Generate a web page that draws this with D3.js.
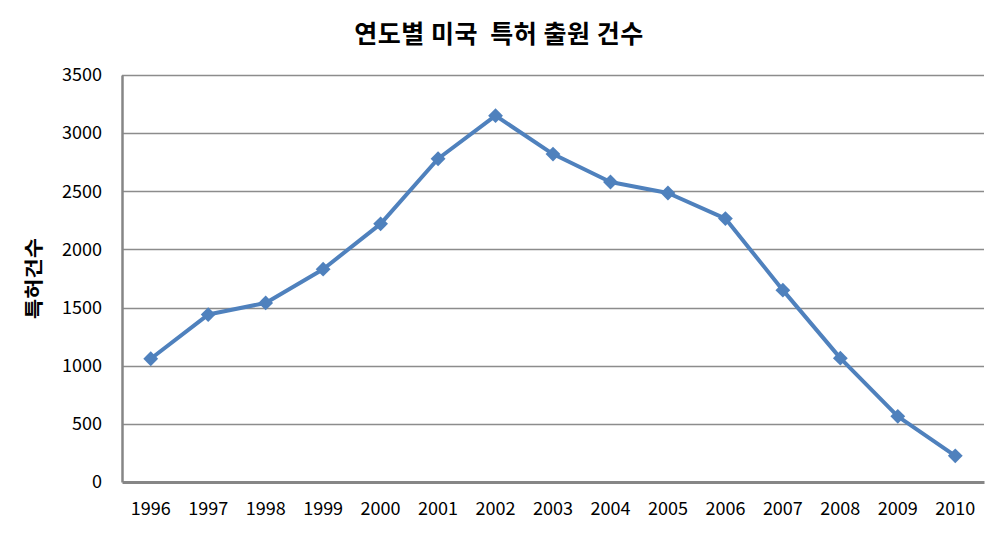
<!DOCTYPE html>
<html><head><meta charset="utf-8">
<script src="https://cdn.jsdelivr.net/npm/d3@7"></script>
<style>body{margin:0;background:#fff}svg{display:block}</style>
</head><body>
<script>
const years = ["1996","1997","1998","1999","2000","2001","2002","2003","2004","2005","2006","2007","2008","2009","2010"];
const counts = [1060,1440,1540,1830,2220,2780,3150,2820,2580,2485,2265,1650,1065,565,225];
const yTicks = [0,500,1000,1500,2000,2500,3000,3500];
const title = "연도별 미국  특허 출원 건수";
const yTitle = "특허건수";

const W=998,H=541, m={l:122,r:14,t:75,b:59};
const svg=d3.select("body").append("svg").attr("width",W).attr("height",H);
const font="'Noto Sans CJK KR','Noto Sans',sans-serif";
const x=d3.scaleBand().domain(years).range([m.l,W-m.r]);
const y=d3.scaleLinear().domain([0,3500]).range([H-m.b,m.t]);

// gridlines
svg.append("g").selectAll("line").data(yTicks.filter(d=>d>0)).join("line")
  .attr("x1",m.l).attr("x2",W-m.r).attr("y1",d=>Math.round(y(d))+0.5).attr("y2",d=>Math.round(y(d))+0.5)
  .attr("stroke","#8c8c8c").attr("stroke-width",1.3);

// axes
const yA=svg.append("g").attr("transform",`translate(${m.l},0)`)
  .call(d3.axisLeft(y).tickValues(yTicks).tickFormat(d3.format("d")).tickSize(0).tickPadding(20));
yA.select(".domain").attr("stroke","#868686").attr("stroke-width",2.5);
yA.selectAll("text").attr("font-family",font).attr("font-size",18).attr("fill","#000");

const xA=svg.append("g").attr("transform",`translate(0,${y(0)})`)
  .call(d3.axisBottom(x).tickSize(0).tickPadding(20));
xA.select(".domain").attr("stroke","#868686").attr("stroke-width",3);
xA.selectAll("text").attr("font-family",font).attr("font-size",18).attr("fill","#000");

// line
const pts=years.map((yr,i)=>[x(yr)+x.bandwidth()/2,y(counts[i])]);
svg.append("path").attr("d",d3.line()(pts)).attr("fill","none")
  .attr("stroke","#4F81BD").attr("stroke-width",4).attr("stroke-linejoin","round");
svg.append("g").selectAll("path").data(pts).join("path")
  .attr("d",d3.symbol(d3.symbolSquare,110)())
  .attr("transform",d=>`translate(${d[0]},${d[1]}) rotate(45)`)
  .attr("fill","#4F81BD");

// titles
svg.append("text").attr("transform",`translate(${W/2},43)`).attr("text-anchor","middle")
  .style("white-space","pre").attr("letter-spacing",0.5)
  .attr("font-family",font).attr("font-weight","bold").attr("font-size",25).text(title);
svg.append("text").attr("transform",`translate(41,${(m.t+H-m.b)/2}) rotate(-90) scale(1,0.9)`)
  .attr("text-anchor","middle").attr("font-family",font).attr("font-weight","bold")
  .attr("font-size",22).text(yTitle);
</script>
</body></html>
